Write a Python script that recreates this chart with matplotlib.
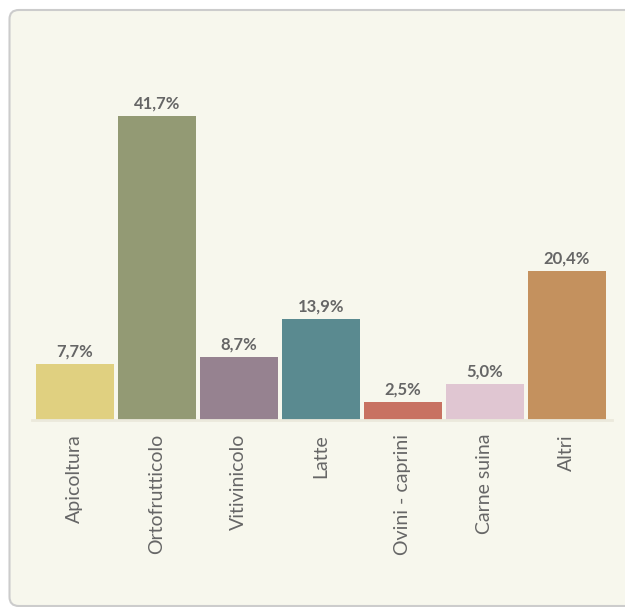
import matplotlib.pyplot as plt
from matplotlib.patches import FancyBboxPatch

categories = ['Apicoltura', 'Ortofrutticolo', 'Vitivinicolo', 'Latte',
              'Ovini - caprini', 'Carne suina', 'Altri']
values = [7.7, 41.7, 8.7, 13.9, 2.5, 5.0, 20.4]
colors = ['#e0d080', '#939a74', '#968290', '#5a8a90',
          '#c87262', '#e0c6d2', '#c4915e']

bg = '#f7f7ed'
txt = '#666666'
plt.rcParams['font.family'] = ['Lato', 'DejaVu Sans']

W, H = 625, 607
fig = plt.figure(figsize=(W / 100, H / 100), dpi=100)
fig.patch.set_facecolor('white')

# rounded card behind the chart
card = FancyBboxPatch((9.5 / W, 1.0 / H), 640 / W, (H - 11) / H,
                      boxstyle='round,pad=0,rounding_size=0.015',
                      transform=fig.transFigure, facecolor=bg,
                      edgecolor='#cccccc', linewidth=1.5, zorder=-1)
fig.patches.append(card)

ax = fig.add_axes([32 / W, (H - 420) / H, 580 / W, 380 / H])
ax.set_zorder(2)
ax.set_facecolor('none')
x = range(len(categories))
ax.bar(x, values, width=0.95, color=colors)
for i, v in enumerate(values):
    ax.text(i, v + 0.6, f'{v:.1f}%'.replace('.', ','), ha='center', va='bottom',
            fontsize=12, fontweight='bold', color=txt)

ax.set_xlim(-0.52, 6.55)
ax.set_ylim(0, 52.1)
ax.set_xticks(list(x))
ax.set_xticklabels(categories, rotation=90, fontsize=14, color=txt)
ax.tick_params(axis='x', length=0, pad=10)
ax.set_yticks([])
for s in ['top', 'right', 'left']:
    ax.spines[s].set_visible(False)
ax.spines['bottom'].set_color('#ebe9dc')
ax.spines['bottom'].set_linewidth(2)

fig.savefig('out.png', dpi=100, facecolor='white')
